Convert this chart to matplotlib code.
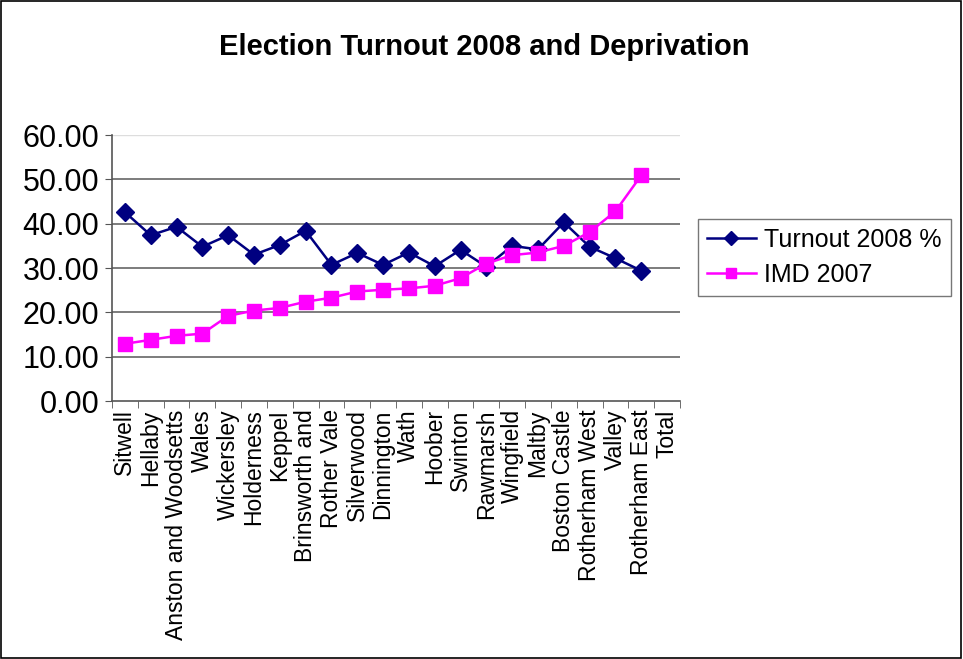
"""Election turnout 2008 and deprivation chart"""

import numpy as np
import matplotlib
matplotlib.use('Agg')
import matplotlib.pyplot as plt
from matplotlib.patches import Rectangle

plt.rcParams['font.family'] = ['Liberation Sans', 'DejaVu Sans']

wards = [
    'Sitwell', 'Hellaby', 'Anston and Woodsetts', 'Wales', 'Wickersley',
    'Holderness', 'Keppel', 'Brinsworth and', 'Rother Vale', 'Silverwood',
    'Dinnington', 'Wath', 'Hoober', 'Swinton', 'Rawmarsh', 'Wingfield',
    'Maltby', 'Boston Castle', 'Rotherham West', 'Valley', 'Rotherham East',
    'Total',
]
turnout = [
    42.6, 37.4, 39.3, 34.8, 37.4, 33.0, 35.2, 38.4, 30.7, 33.4, 30.7,
    33.5, 30.4, 34.1, 30.3, 35.0, 34.2, 40.3, 34.8, 32.2, 29.4, np.nan,
]
imd = [
    12.9, 13.8, 14.7, 15.2, 19.2, 20.4, 21.0, 22.4, 23.3, 24.7, 25.1,
    25.4, 26.0, 27.7, 31.0, 32.9, 33.5, 35.0, 38.1, 42.8, 50.9, np.nan,
]
y_ticks = [0, 10, 20, 30, 40, 50, 60]

fig = plt.figure(figsize=(9.63, 6.59), dpi=100)
fig.patches.append(Rectangle((0.001, 0.002), 0.997, 0.996, transform=fig.transFigure,
                             fill=False, ec='black', lw=1.2))
fig.text(0.503, 0.928, 'Election Turnout 2008 and Deprivation',
         ha='center', va='center', fontsize=21, fontweight='bold')

ax = fig.add_axes([0.1163, 0.3915, 0.5898, 0.4036])
x = np.arange(len(wards))
ax.plot(x, turnout, color='#000080', marker='D', ms=9.5, lw=1.8,
        label='Turnout 2008 %')
ax.plot(x, imd, color='#FF00FF', marker='s', ms=9.5, lw=1.8,
        label='IMD 2007')

ax.set_xlim(-0.5, len(wards) - 0.5)
ax.set_ylim(0, 60)
ax.set_yticks(y_ticks)
ax.set_yticklabels([f'{v:.2f}' for v in y_ticks], fontsize=22)
ax.set_xticks(x)
ax.set_xticklabels(wards, rotation=90, fontsize=16.5)
ax.set_xticks(np.arange(len(wards) + 1) - 0.5, minor=True)
ax.tick_params(axis='x', which='major', length=0, pad=6)
ax.tick_params(axis='x', which='minor', length=5, color='#555555')
ax.tick_params(axis='y', length=5, color='#555555', pad=4)

for v in y_ticks[1:-1]:
    ax.axhline(v, color='#666666', lw=1.2, zorder=0)
ax.axhline(60, color='#dddddd', lw=1, zorder=0)
for side in ['top', 'right']:
    ax.spines[side].set_visible(False)
for side in ['left', 'bottom']:
    ax.spines[side].set_color('#555555')
    ax.spines[side].set_linewidth(1.2)

leg = fig.legend(loc='upper left', bbox_to_anchor=(0.725, 0.668), fontsize=18,
                 frameon=True, fancybox=False, edgecolor='#555555',
                 handlelength=1.95, borderpad=0.35, labelspacing=0.45,
                 handletextpad=0.35, borderaxespad=0, markerscale=0.8)
leg.get_frame().set_linewidth(1.0)

fig.savefig('out.png', dpi=100)
